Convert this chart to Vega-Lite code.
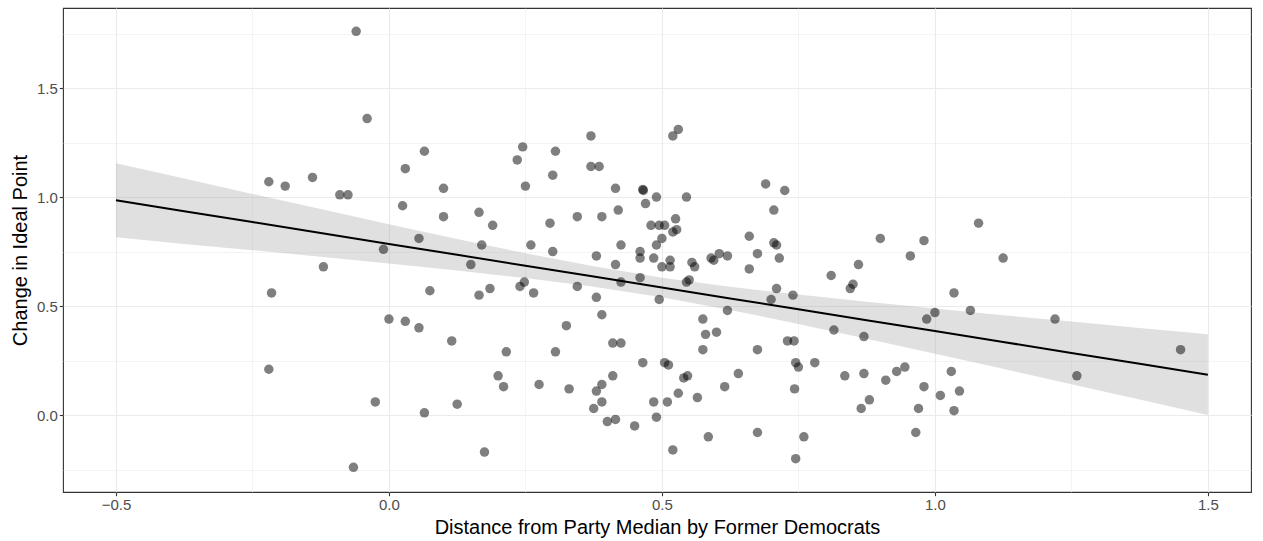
{
  "$schema": "https://vega.github.io/schema/vega-lite/v6.json",
  "width": 1188,
  "height": 484,
  "autosize": "none",
  "padding": {"left": 63, "top": 8, "right": 12, "bottom": 49},
  "background": "white",
  "config": {
    "view": {"stroke": "#333333", "strokeWidth": 1.1},
    "font": "Liberation Sans",
    "axis": {
      "domain": false,
      "gridColor": "#ebebeb",
      "gridWidth": {"condition": {"test": "datum.value % 0.5 !== 0", "value": 0.55}, "value": 1.1},
      "tickColor": "#333333",
      "tickSize": 3.7,
      "tickWidth": 1.1,
      "tickOpacity": {"condition": {"test": "datum.value % 0.5 !== 0", "value": 0}, "value": 1},
      "labelColor": "#4d4d4d",
      "labelFontSize": 15,
      "labelFont": "Liberation Sans",
      "titleFont": "Liberation Sans",
      "titleFontSize": 20,
      "titleFontWeight": "normal",
      "titleColor": "#000000",
      "labelPadding": 2,
      "labelExpr": "datum.value % 0.5 === 0 ? format(datum.value, '.1f') : ''"
    }
  },
  "datasets": {
    "pts": [
      {"x": -0.22, "y": 1.07}, {"x": -0.19, "y": 1.05}, {"x": -0.14, "y": 1.09}, {"x": -0.09, "y": 1.01},
      {"x": -0.075, "y": 1.01}, {"x": -0.06, "y": 1.76}, {"x": -0.04, "y": 1.36}, {"x": -0.12, "y": 0.68},
      {"x": -0.215, "y": 0.56}, {"x": -0.22, "y": 0.21}, {"x": -0.065, "y": -0.24}, {"x": -0.025, "y": 0.06},
      {"x": -0.01, "y": 0.76}, {"x": 0.0, "y": 0.44}, {"x": 0.03, "y": 0.43}, {"x": 0.03, "y": 1.13},
      {"x": 0.025, "y": 0.96}, {"x": 0.055, "y": 0.81}, {"x": 0.055, "y": 0.4}, {"x": 0.065, "y": 1.21},
      {"x": 0.075, "y": 0.57}, {"x": 0.065, "y": 0.01}, {"x": 0.1, "y": 1.04}, {"x": 0.1, "y": 0.91},
      {"x": 0.115, "y": 0.34}, {"x": 0.125, "y": 0.05}, {"x": 0.15, "y": 0.69}, {"x": 0.165, "y": 0.93},
      {"x": 0.165, "y": 0.55}, {"x": 0.17, "y": 0.78}, {"x": 0.175, "y": -0.17}, {"x": 0.185, "y": 0.58},
      {"x": 0.19, "y": 0.87}, {"x": 0.2, "y": 0.18}, {"x": 0.21, "y": 0.13}, {"x": 0.215, "y": 0.29},
      {"x": 0.235, "y": 1.17}, {"x": 0.245, "y": 1.23}, {"x": 0.25, "y": 1.05}, {"x": 0.24, "y": 0.59},
      {"x": 0.248, "y": 0.61}, {"x": 0.26, "y": 0.78}, {"x": 0.265, "y": 0.56}, {"x": 0.275, "y": 0.14},
      {"x": 0.295, "y": 0.88}, {"x": 0.3, "y": 0.75}, {"x": 0.305, "y": 1.21}, {"x": 0.3, "y": 1.1},
      {"x": 0.305, "y": 0.29}, {"x": 0.325, "y": 0.41}, {"x": 0.33, "y": 0.12}, {"x": 0.345, "y": 0.59},
      {"x": 0.345, "y": 0.91}, {"x": 0.37, "y": 1.28}, {"x": 0.37, "y": 1.14}, {"x": 0.385, "y": 1.14},
      {"x": 0.38, "y": 0.73}, {"x": 0.38, "y": 0.54}, {"x": 0.38, "y": 0.11}, {"x": 0.375, "y": 0.03},
      {"x": 0.39, "y": 0.46}, {"x": 0.39, "y": 0.14}, {"x": 0.39, "y": 0.91}, {"x": 0.39, "y": 0.06},
      {"x": 0.4, "y": -0.03}, {"x": 0.41, "y": 0.18}, {"x": 0.41, "y": 0.33}, {"x": 0.415, "y": 1.04},
      {"x": 0.415, "y": 0.69}, {"x": 0.415, "y": -0.02}, {"x": 0.425, "y": 0.33}, {"x": 0.42, "y": 0.94},
      {"x": 0.425, "y": 0.61}, {"x": 0.425, "y": 0.78}, {"x": 0.45, "y": -0.05}, {"x": 0.46, "y": 0.75},
      {"x": 0.46, "y": 0.72}, {"x": 0.46, "y": 0.63}, {"x": 0.465, "y": 1.035}, {"x": 0.466, "y": 1.03},
      {"x": 0.47, "y": 0.97}, {"x": 0.465, "y": 0.24}, {"x": 0.48, "y": 0.87}, {"x": 0.485, "y": 0.72},
      {"x": 0.49, "y": 1.0}, {"x": 0.485, "y": 0.06}, {"x": 0.49, "y": -0.01}, {"x": 0.49, "y": 0.78},
      {"x": 0.495, "y": 0.87}, {"x": 0.495, "y": 0.53}, {"x": 0.5, "y": 0.68}, {"x": 0.5, "y": 0.81},
      {"x": 0.505, "y": 0.24}, {"x": 0.505, "y": 0.87}, {"x": 0.51, "y": 0.06}, {"x": 0.512, "y": 0.23},
      {"x": 0.515, "y": 0.71}, {"x": 0.515, "y": 0.68}, {"x": 0.52, "y": 1.28}, {"x": 0.52, "y": 0.84},
      {"x": 0.525, "y": 0.9}, {"x": 0.52, "y": -0.16}, {"x": 0.53, "y": 1.31}, {"x": 0.527, "y": 0.85},
      {"x": 0.53, "y": 0.1}, {"x": 0.545, "y": 1.0}, {"x": 0.54, "y": 0.17}, {"x": 0.547, "y": 0.18},
      {"x": 0.545, "y": 0.61}, {"x": 0.55, "y": 0.62}, {"x": 0.555, "y": 0.7}, {"x": 0.56, "y": 0.68},
      {"x": 0.565, "y": 0.08}, {"x": 0.575, "y": 0.44}, {"x": 0.575, "y": 0.3}, {"x": 0.58, "y": 0.37},
      {"x": 0.585, "y": -0.1}, {"x": 0.59, "y": 0.72}, {"x": 0.595, "y": 0.71}, {"x": 0.6, "y": 0.38},
      {"x": 0.605, "y": 0.74}, {"x": 0.615, "y": 0.13}, {"x": 0.62, "y": 0.73}, {"x": 0.62, "y": 0.48},
      {"x": 0.64, "y": 0.19}, {"x": 0.66, "y": 0.82}, {"x": 0.66, "y": 0.67}, {"x": 0.675, "y": 0.74},
      {"x": 0.675, "y": 0.3}, {"x": 0.675, "y": -0.08}, {"x": 0.69, "y": 1.06}, {"x": 0.7, "y": 0.53},
      {"x": 0.705, "y": 0.94}, {"x": 0.705, "y": 0.79}, {"x": 0.71, "y": 0.78}, {"x": 0.71, "y": 0.58},
      {"x": 0.715, "y": 0.72}, {"x": 0.725, "y": 1.03}, {"x": 0.73, "y": 0.34}, {"x": 0.74, "y": 0.55},
      {"x": 0.742, "y": 0.34}, {"x": 0.743, "y": 0.12}, {"x": 0.745, "y": 0.24}, {"x": 0.75, "y": 0.22},
      {"x": 0.745, "y": -0.2}, {"x": 0.76, "y": -0.1}, {"x": 0.78, "y": 0.24}, {"x": 0.81, "y": 0.64},
      {"x": 0.815, "y": 0.39}, {"x": 0.835, "y": 0.18}, {"x": 0.845, "y": 0.58}, {"x": 0.85, "y": 0.6},
      {"x": 0.86, "y": 0.69}, {"x": 0.865, "y": 0.03}, {"x": 0.87, "y": 0.19}, {"x": 0.87, "y": 0.36},
      {"x": 0.88, "y": 0.07}, {"x": 0.9, "y": 0.81}, {"x": 0.91, "y": 0.16}, {"x": 0.93, "y": 0.2},
      {"x": 0.945, "y": 0.22}, {"x": 0.955, "y": 0.73}, {"x": 0.965, "y": -0.08}, {"x": 0.97, "y": 0.03},
      {"x": 0.98, "y": 0.8}, {"x": 0.98, "y": 0.13}, {"x": 0.985, "y": 0.44}, {"x": 1.0, "y": 0.47},
      {"x": 1.01, "y": 0.09}, {"x": 1.03, "y": 0.2}, {"x": 1.035, "y": 0.56}, {"x": 1.035, "y": 0.02},
      {"x": 1.045, "y": 0.11}, {"x": 1.065, "y": 0.48}, {"x": 1.08, "y": 0.88}, {"x": 1.125, "y": 0.72},
      {"x": 1.22, "y": 0.44}, {"x": 1.26, "y": 0.18}, {"x": 1.45, "y": 0.3}
    ],
    "fit": [
      {"x": -0.5, "fit": 0.985, "lo": 0.815, "hi": 1.155},
      {"x": -0.375, "fit": 0.935, "lo": 0.785, "hi": 1.085},
      {"x": -0.25, "fit": 0.885, "lo": 0.756, "hi": 1.014},
      {"x": -0.125, "fit": 0.835, "lo": 0.726, "hi": 0.945},
      {"x": 0.0, "fit": 0.785, "lo": 0.695, "hi": 0.875},
      {"x": 0.125, "fit": 0.735, "lo": 0.663, "hi": 0.807},
      {"x": 0.25, "fit": 0.685, "lo": 0.628, "hi": 0.742},
      {"x": 0.375, "fit": 0.635, "lo": 0.588, "hi": 0.682},
      {"x": 0.5, "fit": 0.585, "lo": 0.54, "hi": 0.63},
      {"x": 0.625, "fit": 0.535, "lo": 0.482, "hi": 0.588},
      {"x": 0.75, "fit": 0.485, "lo": 0.418, "hi": 0.553},
      {"x": 0.875, "fit": 0.435, "lo": 0.35, "hi": 0.52},
      {"x": 1.0, "fit": 0.385, "lo": 0.281, "hi": 0.489},
      {"x": 1.125, "fit": 0.335, "lo": 0.212, "hi": 0.458},
      {"x": 1.25, "fit": 0.285, "lo": 0.141, "hi": 0.429},
      {"x": 1.375, "fit": 0.235, "lo": 0.071, "hi": 0.399},
      {"x": 1.5, "fit": 0.185, "lo": 0.0, "hi": 0.37}
    ]
  },
  "encoding": {
    "x": {
      "field": "x", "type": "quantitative",
      "scale": {"domain": [-0.597, 1.579], "nice": false, "zero": false},
      "axis": {"title": "Distance from Party Median by Former Democrats", "values": [-0.5, -0.25, 0, 0.25, 0.5, 0.75, 1, 1.25, 1.5], "titlePadding": 5}
    }
  },
  "layer": [
    {
      "data": {"name": "fit"},
      "mark": {"type": "area", "color": "#999999", "opacity": 0.3},
      "encoding": {
        "y": {"field": "lo", "type": "quantitative", "scale": {"domain": [-0.353, 1.867], "nice": false, "zero": false},
          "axis": {"title": "Change in Ideal Point", "values": [-0.25, 0, 0.25, 0.5, 0.75, 1, 1.25, 1.5, 1.75], "titlePadding": 6}},
        "y2": {"field": "hi"}
      }
    },
    {
      "data": {"name": "pts"},
      "mark": {"type": "circle", "color": "#000000", "opacity": 0.5, "size": 90},
      "encoding": {
        "y": {"field": "y", "type": "quantitative", "title": "Change in Ideal Point"}
      }
    },
    {
      "data": {"name": "fit"},
      "mark": {"type": "line", "color": "#000000", "strokeWidth": 2},
      "encoding": {
        "y": {"field": "fit", "type": "quantitative", "title": "Change in Ideal Point"}
      }
    }
  ]
}
